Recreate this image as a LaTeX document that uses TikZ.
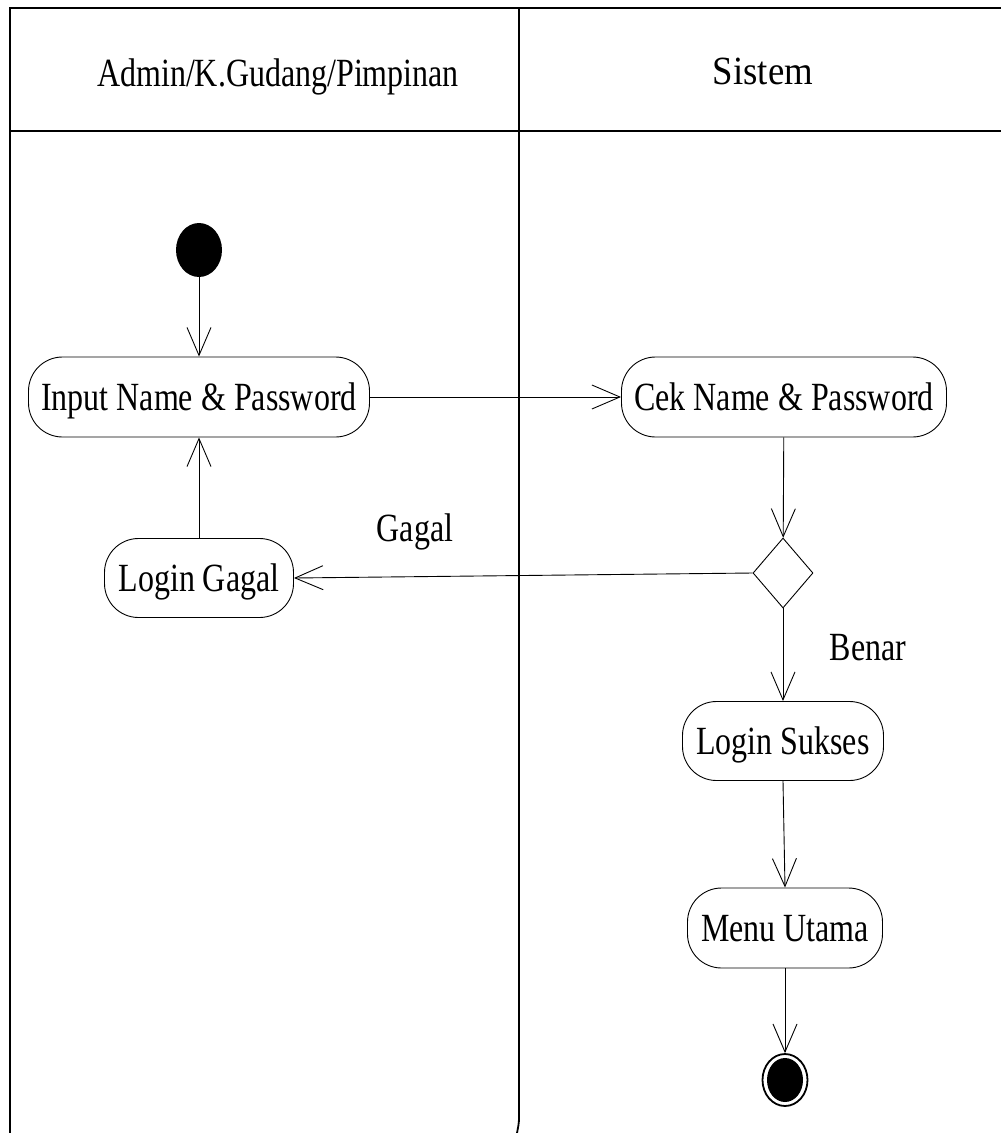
\documentclass[tikz,border=0pt]{standalone}
\usepackage{fontspec}
\setmainfont{Liberation Serif}[FakeStretch=0.8]
\usetikzlibrary{arrows.meta,shapes.geometric}
\begin{document}
\begin{tikzpicture}[x=1pt,y=-1pt,
  every node/.style={font=\fontsize{40}{46}\selectfont},
  frame/.style={line width=1.8pt},
  act/.style={draw, line width=0.9pt, rounded corners=34pt, minimum height=80pt, inner xsep=12pt, text depth=0pt},
  flow/.style={line width=0.9pt, -{Straight Barb[length=28pt,width=24pt,line width=0.9pt]}},
  lbl/.style={inner sep=0pt}
]
\useasboundingbox (0,0) rectangle (1001,1133);
% frame and swimlanes
\coordinate (tl) at (10,8);
\coordinate (tr) at (1001,8);
\coordinate (bl) at (10,1133);
\coordinate (hl) at (10,131);
\coordinate (hr) at (1001,131);
\coordinate (dt) at (519,8);
\coordinate (db) at (517,1133);
\draw[frame] (bl) -- (tl) -- (tr);
\draw[frame] (hl) -- (hr);
\draw[frame] (dt) -- (519,1118) to[out=-90,in=80] (db);
\node[lbl] (h1) at (278,77) {Admin/K.Gudang/Pimpinan};
\node[lbl] (h2) at (763,71) {\scalebox{1.15}[1]{Sistem}};
% nodes
\node[ellipse, fill=black, minimum width=46pt, minimum height=54pt, inner sep=0pt] (start) at (199,250) {};
\node[act, minimum width=341pt] (input) at (199,397) {Input Name \& Password};
\node[act, minimum width=325pt] (cek) at (784,397) {Cek Name \& Password};
\node[act, minimum width=189pt, minimum height=79pt] (gagal) at (199,578) {Login Gagal};
\node[diamond, draw, line width=0.9pt, minimum width=60pt, minimum height=70pt, inner sep=0pt] (dec) at (783,573) {};
\node[act, minimum width=201pt, minimum height=79pt] (sukses) at (783,741) {Login Sukses};
\node[act, minimum width=195pt] (menu) at (785,928) {Menu Utama};
\node[ellipse, draw, line width=1.8pt, minimum width=45pt, minimum height=52pt, inner sep=0pt] (end) at (785,1080) {};
\node[ellipse, fill=black, minimum width=36pt, minimum height=44pt, inner sep=0pt] (endin) at (785,1080) {};
\node[lbl] (lg) at (415,532) {Gagal};
\node[lbl] (lb) at (868,648) {Benar};
% connectors
\draw[flow] (start) -- (input);
\draw[flow] (input) -- (cek);
\draw[flow] (cek) -- (dec);
\draw[flow] (dec.west) -- (gagal.east);
\draw[flow] (gagal) -- (input);
\draw[flow] (dec) -- (sukses);
\draw[flow] (sukses.south) -- (menu.north);
\draw[flow] (menu) -- (end);
\end{tikzpicture}
\end{document}
